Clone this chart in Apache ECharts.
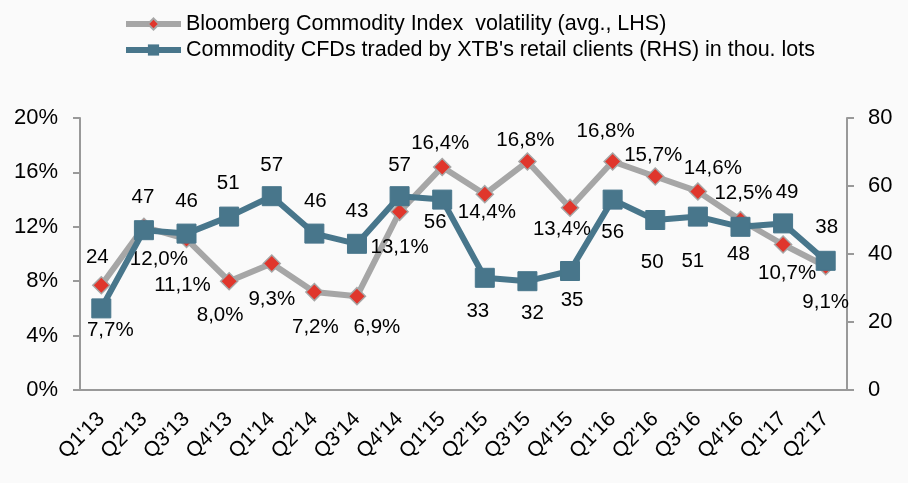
<!DOCTYPE html>
<html>
<head>
<meta charset="utf-8">
<script src="https://cdn.jsdelivr.net/npm/echarts@6/dist/echarts.min.js"></script>
<style>
  html, body { margin: 0; padding: 0; background: #fafafa; }
  .box { width: 908px; height: 483px; }
</style>
</head>
<body>
<div class="box"></div>
<script>
const quarters = ["Q1'13", "Q2'13", "Q3'13", "Q4'13", "Q1'14", "Q2'14", "Q3'14", "Q4'14", "Q1'15",
    "Q2'15", "Q3'15", "Q4'15", "Q1'16", "Q2'16", "Q3'16", "Q4'16", "Q1'17", "Q2'17"];
const volatility = [7.7, 12.0, 11.1, 8.0, 9.3, 7.2, 6.9, 13.1, 16.4, 14.4, 16.8, 13.4, 16.8, 15.7, 14.6, 12.5, 10.7, 9.1];
const cfdLots = [24, 47, 46, 51, 57, 46, 43, 57, 56, 33, 32, 35, 56, 50, 51, 48, 49, 38];

// where each data label sits relative to its point
const volLabelOffset = [[9, 45], [15, 33], [-4, 46], [-9, 34], [0, 36], [1, 35], [20, 31], [0, 36], [-2, -24],
    [2, 18], [-2, -21], [-8, 22], [-7, -30], [-2, -21], [15, -23], [3, -27], [4, 29], [0, 36]];
const cfdLabelOffset = [[-4, -51], [-1, -33], [0, -32], [-1, -33], [0, -31], [1, -32], [0, -32], [0, -31], [-7, 23],
    [-7, 34], [5, 32], [2, 29], [0, 33], [-3, 42], [-5, 45], [-2, 28], [4, -31], [1, -33]];

const chartDom = document.getElementsByClassName('box')[0];
const myChart = echarts.init(chartDom);
const font = 'Liberation Sans, Arial, sans-serif';

const labelBase = {
    show: true,
    position: 'inside',
    color: '#000',
    fontSize: 20.5,
    fontFamily: font
};

const volData = volatility.map((v, i) => ({
    value: v,
    label: { offset: volLabelOffset[i] }
}));
const cfdData = cfdLots.map((v, i) => ({
    value: v,
    label: { offset: cfdLabelOffset[i] }
}));

const axisLine = { show: true, lineStyle: { color: '#999', width: 2 } };
const volName = 'Bloomberg Commodity Index  volatility (avg., LHS)';
const cfdName = "Commodity CFDs traded by XTB's retail clients (RHS) in thou. lots";

const option = {
    backgroundColor: '#fafafa',
    animation: false,
    legend: {
        orient: 'vertical',
        left: 118,
        top: 8,
        itemWidth: 55,
        itemHeight: 14,
        itemGap: 4,
        textStyle: { fontSize: 21.5, fontFamily: font, color: '#000' },
        data: [
            { name: volName, lineStyle: { width: 6 } },
            { name: cfdName, lineStyle: { width: 6 } }
        ]
    },
    grid: { left: 80, right: 61, top: 118, bottom: 93 },
    xAxis: {
        type: 'category',
        data: quarters,
        boundaryGap: true,
        axisLine: axisLine,
        axisTick: { show: false },
        axisLabel: { rotate: 45, fontSize: 21, fontFamily: font, color: '#000', margin: 26 }
    },
    yAxis: [
        {
            type: 'value', min: 0, max: 20, interval: 4,
            axisLine: axisLine,
            axisTick: { show: true, length: 7, lineStyle: { color: '#999', width: 2 } },
            splitLine: { show: false },
            axisLabel: { formatter: '{value}%', fontSize: 22, fontFamily: font, color: '#000', margin: 22 }
        },
        {
            type: 'value', min: 0, max: 80, interval: 20,
            axisLine: axisLine,
            axisTick: { show: true, length: 7, lineStyle: { color: '#999', width: 2 } },
            splitLine: { show: false },
            axisLabel: { fontSize: 22, fontFamily: font, color: '#000', margin: 21 }
        }
    ],
    series: [
        {
            name: volName,
            type: 'line',
            yAxisIndex: 0,
            data: volData,
            symbol: 'diamond',
            symbolSize: 17,
            lineStyle: { color: '#a6a6a6', width: 6 },
            itemStyle: { color: '#e0362c', borderColor: '#a6a6a6', borderWidth: 1.5 },
            label: Object.assign({}, labelBase, {
                formatter: p => p.value.toFixed(1).replace('.', ',') + '%'
            }),
            z: 2
        },
        {
            name: cfdName,
            type: 'line',
            yAxisIndex: 1,
            data: cfdData,
            symbol: 'rect',
            symbolSize: 19,
            lineStyle: { color: '#48768b', width: 6 },
            itemStyle: { color: '#48768b', borderColor: '#48768b' },
            label: labelBase,
            z: 3
        }
    ]
};

myChart.setOption(option);
</script>
</body>
</html>
